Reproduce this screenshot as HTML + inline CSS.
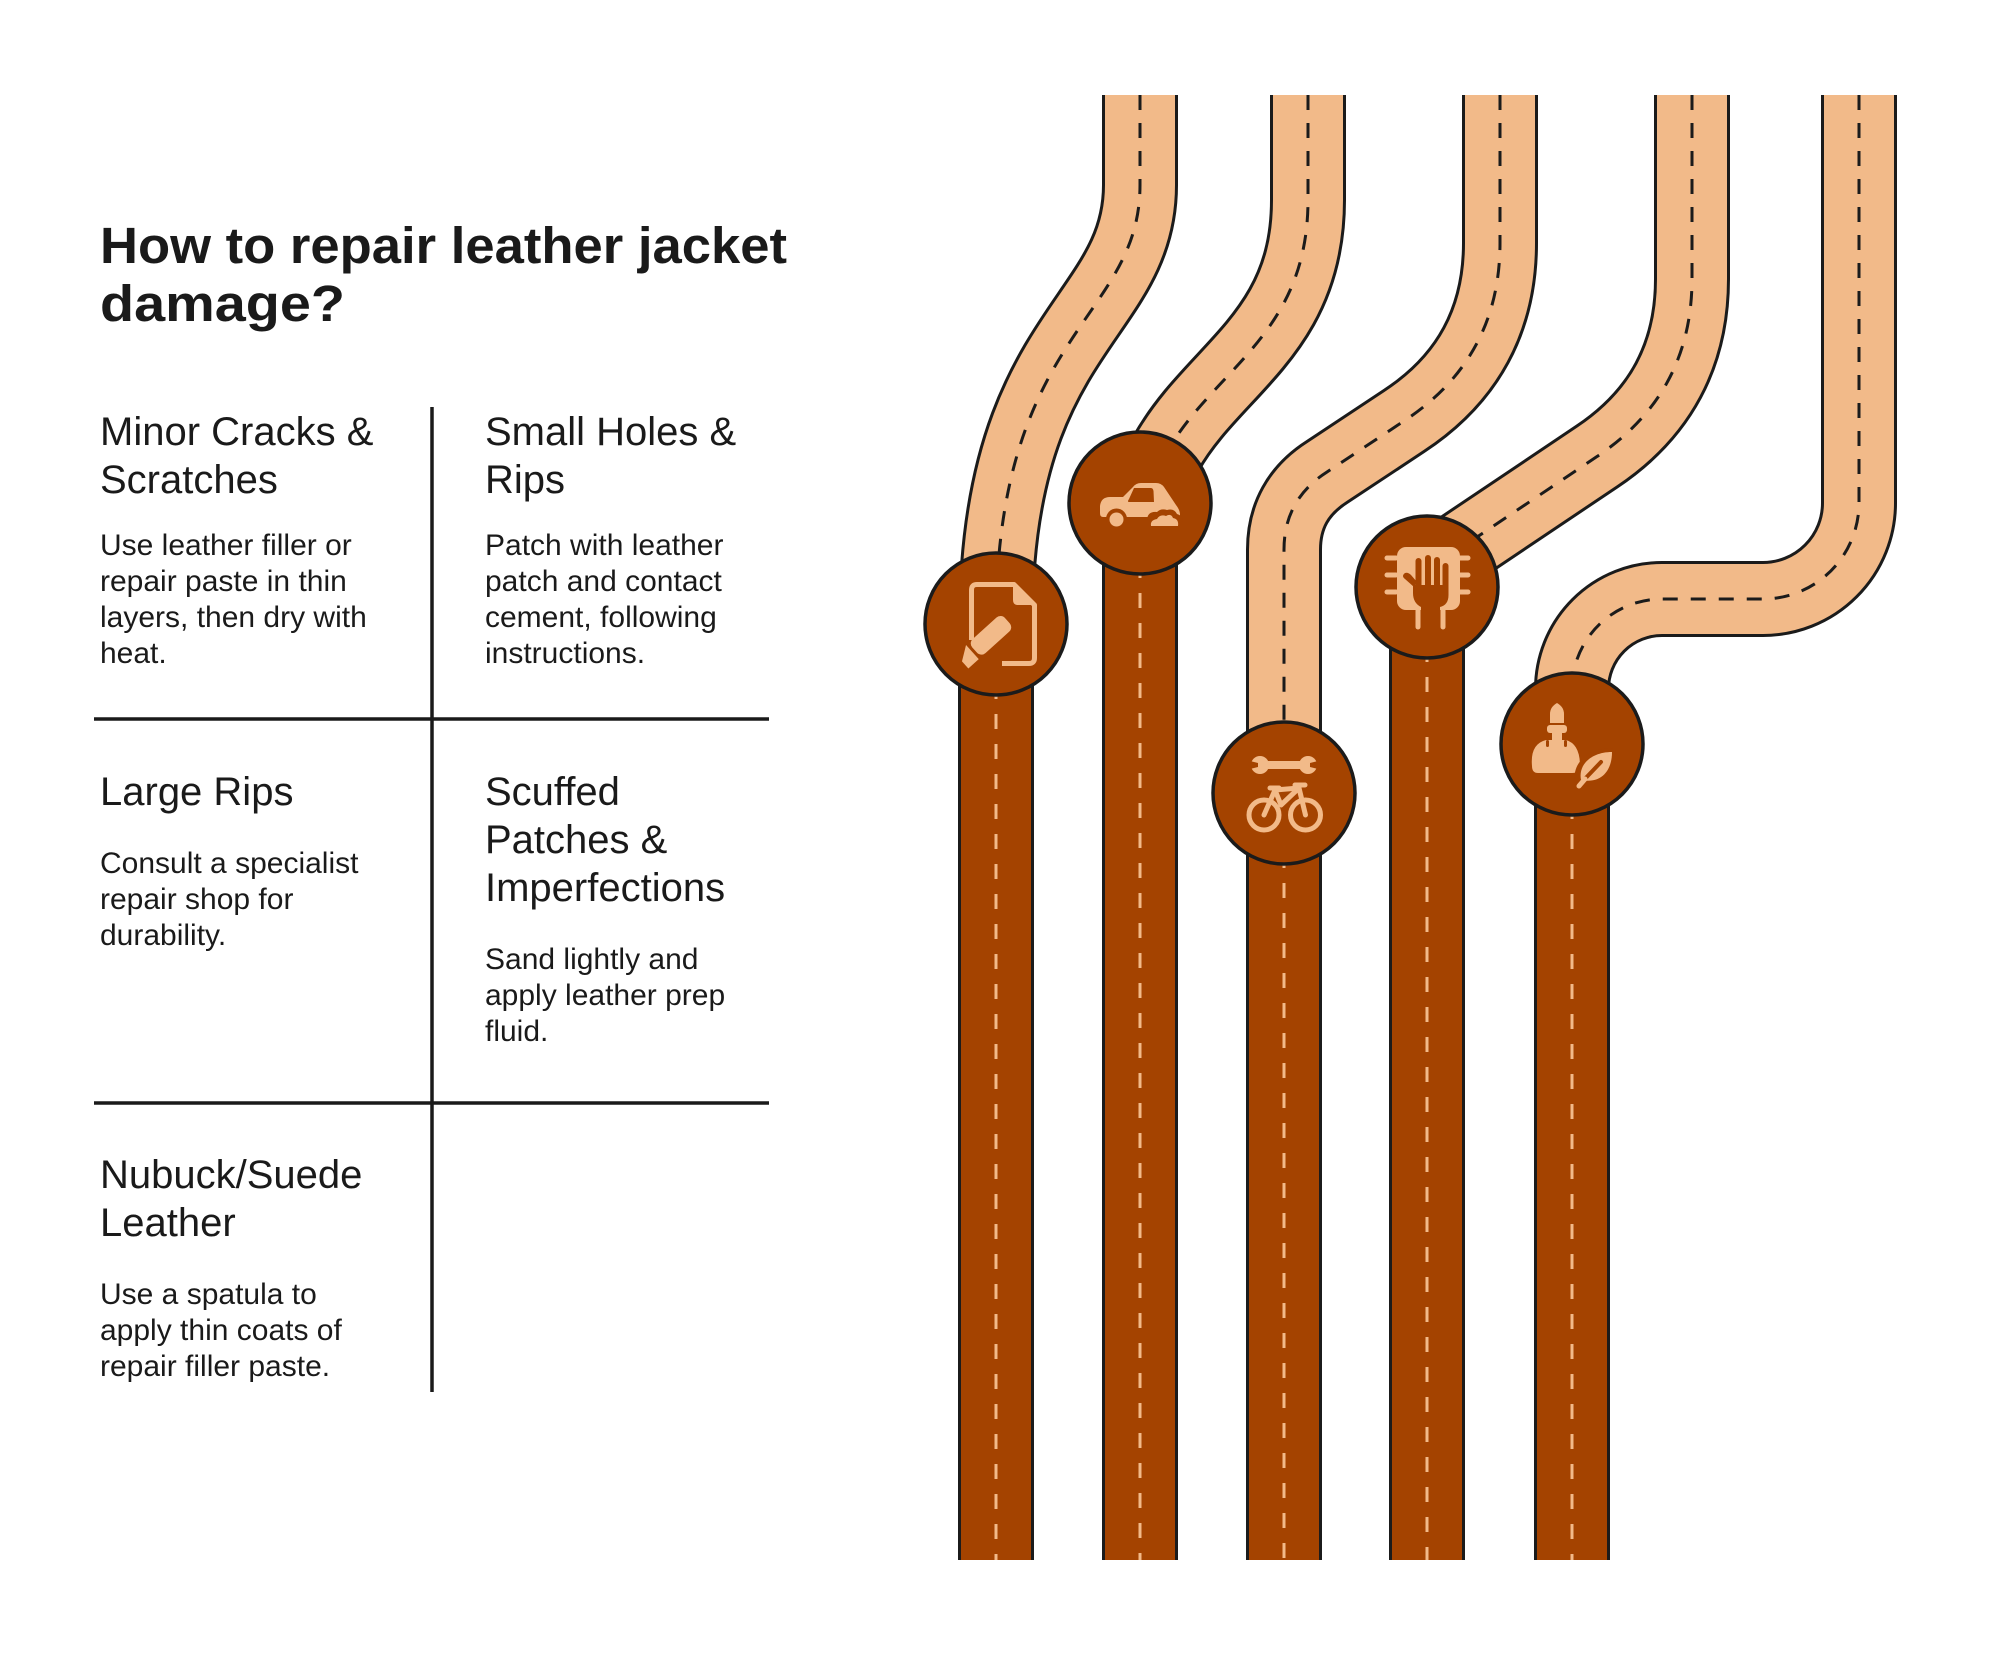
<!DOCTYPE html>
<html>
<head>
<meta charset="utf-8">
<style>
  html, body { margin: 0; padding: 0; background: #ffffff; }
  svg { display: block; }
  .t { font-family: "Liberation Sans", Arial, sans-serif; fill: #1a1a1a; }
</style>
</head>
<body>
<svg width="2016" height="1656" viewBox="0 0 2016 1656" xmlns="http://www.w3.org/2000/svg">
  <rect x="0" y="0" width="2016" height="1656" fill="#ffffff"/>

  <!-- Title -->
  <text class="t" x="100" y="263" font-size="51" font-weight="bold" textLength="687" lengthAdjust="spacingAndGlyphs">How to repair leather jacket</text>
  <text class="t" x="100" y="321" font-size="51" font-weight="bold" textLength="245" lengthAdjust="spacingAndGlyphs">damage?</text>

  <!-- Grid lines -->
  <g stroke="#1a1a1a" stroke-width="3.5" fill="none">
    <line x1="432" y1="407" x2="432" y2="1392"/>
    <line x1="94" y1="719" x2="769" y2="719"/>
    <line x1="94" y1="1103" x2="769" y2="1103"/>
  </g>

  <!-- Cell 1 -->
  <text class="t" x="100" y="445" font-size="40">Minor Cracks &amp;</text>
  <text class="t" x="100" y="493" font-size="40">Scratches</text>
  <text class="t" x="100" y="555" font-size="30">Use leather filler or</text>
  <text class="t" x="100" y="591" font-size="30">repair paste in thin</text>
  <text class="t" x="100" y="627" font-size="30">layers, then dry with</text>
  <text class="t" x="100" y="663" font-size="30">heat.</text>

  <!-- Cell 2 -->
  <text class="t" x="485" y="445" font-size="40">Small Holes &amp;</text>
  <text class="t" x="485" y="493" font-size="40">Rips</text>
  <text class="t" x="485" y="555" font-size="30">Patch with leather</text>
  <text class="t" x="485" y="591" font-size="30">patch and contact</text>
  <text class="t" x="485" y="627" font-size="30">cement, following</text>
  <text class="t" x="485" y="663" font-size="30">instructions.</text>

  <!-- Cell 3 -->
  <text class="t" x="100" y="805" font-size="40">Large Rips</text>
  <text class="t" x="100" y="873" font-size="30">Consult a specialist</text>
  <text class="t" x="100" y="909" font-size="30">repair shop for</text>
  <text class="t" x="100" y="945" font-size="30">durability.</text>

  <!-- Cell 4 -->
  <text class="t" x="485" y="805" font-size="40">Scuffed</text>
  <text class="t" x="485" y="853" font-size="40">Patches &amp;</text>
  <text class="t" x="485" y="901" font-size="40">Imperfections</text>
  <text class="t" x="485" y="969" font-size="30">Sand lightly and</text>
  <text class="t" x="485" y="1005" font-size="30">apply leather prep</text>
  <text class="t" x="485" y="1041" font-size="30">fluid.</text>

  <!-- Cell 5 -->
  <text class="t" x="100" y="1188" font-size="40">Nubuck/Suede</text>
  <text class="t" x="100" y="1236" font-size="40">Leather</text>
  <text class="t" x="100" y="1304" font-size="30">Use a spatula to</text>
  <text class="t" x="100" y="1340" font-size="30">apply thin coats of</text>
  <text class="t" x="100" y="1376" font-size="30">repair filler paste.</text>

  <defs>
    <path id="r1" d="M1140,95 V185 C1140,320 996,330 996,624"/>
    <path id="r2" d="M1308,95 V200 C1308,380 1140,380 1140,560"/>
    <path id="r3" d="M1500,95 V243 Q1500,358 1404,421 L1327,472 Q1284,499.5 1284,549.5 V793"/>
    <path id="r4" d="M1692,95 V279 Q1692,393 1597,456.5 L1428,570"/>
    <path id="r5" d="M1859,95 V503 A96,96 0 0 1 1763,599 H1662 A90,90 0 0 0 1572,689 V744"/>
    <path id="d1" d="M996,624 V1560"/>
    <path id="d2" d="M1140,503 V1560"/>
    <path id="d3" d="M1284,793 V1560"/>
    <path id="d4" d="M1427,587 V1560"/>
    <path id="d5" d="M1572,744 V1560"/>
  </defs>

  <g fill="none" stroke-linecap="butt" stroke-linejoin="round">
    <g stroke="#1b1b1b" stroke-width="76">
      <use href="#r1"/><use href="#r2"/><use href="#r3"/><use href="#r4"/><use href="#r5"/>
    </g>
    <g stroke="#F2BA89" stroke-width="70">
      <use href="#r1"/><use href="#r2"/><use href="#r3"/><use href="#r4"/><use href="#r5"/>
    </g>
    <g stroke="#1b1b1b" stroke-width="3" stroke-dasharray="15 13">
      <use href="#r1"/><use href="#r2"/><use href="#r3"/><use href="#r4"/><use href="#r5"/>
    </g>

    <g stroke="#1b1b1b" stroke-width="76">
      <use href="#d1"/><use href="#d2"/><use href="#d3"/><use href="#d4"/><use href="#d5"/>
    </g>
    <g stroke="#A44300" stroke-width="70">
      <use href="#d1"/><use href="#d2"/><use href="#d3"/><use href="#d4"/><use href="#d5"/>
    </g>
    <g stroke="#F2BA89" stroke-width="3" stroke-dasharray="15 15">
      <use href="#d1"/><use href="#d2"/><use href="#d3"/><use href="#d4"/><use href="#d5"/>
    </g>
  </g>

  <!-- Circles -->
  <g fill="#A44300" stroke="#1b1b1b" stroke-width="3.5">
    <circle cx="996" cy="624" r="71"/>
    <circle cx="1140" cy="503" r="71"/>
    <circle cx="1284" cy="793" r="71"/>
    <circle cx="1427" cy="587" r="71"/>
    <circle cx="1572" cy="744" r="71"/>
  </g>

  <!-- Icon 1: document + marker -->
  <g transform="translate(996,624)">
    <path d="M-24.5,16 V-34 Q-24.5,-39.5 -19,-39.5 H18 L38.5,-19 V34 Q38.5,39.5 33,39.5 H6" fill="none" stroke="#F2BA89" stroke-width="5" stroke-linejoin="round"/>
    <path d="M17,-39.5 V-24 Q17,-19 22,-19 H38.5 Z" fill="#F2BA89"/>
    <g transform="translate(-8,14) rotate(-42)">
      <rect x="-18" y="-9.5" width="44" height="19" rx="6" fill="#F2BA89"/>
      <path d="M-21,-9.5 L-35,0 L-35,9.5 L-21,9.5 Z" fill="#F2BA89"/>
    </g>
  </g>

  <!-- Icon 2: car -->
  <g transform="translate(1140,503)" fill="#F2BA89">
    <path d="M-40,10 L-40,3 Q-39,-6 -30,-6 L-17,-6 L-7,-16 Q-4,-20 1,-20 L16,-20 Q21,-20 24,-16 L36,2 Q40,7 40,12 Q40,14 37,14 L-37,14 Q-40,14 -40,10 Z"/>
    <path d="M-6,-15 L11,-15 Q13,-15 13.5,-12 L14,-1 L-11,-1 Q-13,-1 -11,-4 Z" fill="#A44300"/>
    <circle cx="-23.5" cy="16" r="10.5" fill="#A44300"/>
    <circle cx="-23.5" cy="16.5" r="7"/>
    <path d="M7,26 L7,18 Q7,8 17,9 Q21,5 27,7 Q34,5 37,11 Q44,13 42,20 L42,26 Z" fill="#A44300"/>
    <path d="M11,23 Q10,17 17,16 Q20,11 26,13 Q31,10 33,15 Q39,16 38,23 Z"/>
  </g>

  <!-- Icon 3: wrench + bicycle -->
  <g transform="translate(1284,793)">
    <g fill="#F2BA89">
      <rect x="-24" y="-32" width="48" height="8" rx="3"/>
      <circle cx="-24" cy="-28" r="9"/>
      <circle cx="24" cy="-28" r="9"/>
    </g>
    <g fill="#A44300">
      <path d="M-34,-32 L-26,-30 L-26,-26 L-34,-24 Z"/>
      <path d="M34,-32 L26,-30 L26,-26 L34,-24 Z"/>
    </g>
    <g fill="none" stroke="#F2BA89" stroke-width="5" stroke-linecap="round" stroke-linejoin="round">
      <circle cx="-20" cy="22" r="15"/>
      <circle cx="21.5" cy="22" r="15"/>
      <path d="M-20,22 L-9,-3 L15,-5 L21.5,22"/>
      <path d="M-9,-3 L-3,12 L15,-5"/>
      <path d="M-14,-5 L-5,-5"/>
      <path d="M11,-8 L21,-8"/>
    </g>
  </g>

  <!-- Icon 4: hand on chip -->
  <g transform="translate(1427,587)">
    <rect x="-30" y="-40" width="63" height="63" rx="9" fill="#F2BA89"/>
    <g stroke="#F2BA89" stroke-width="5" stroke-linecap="round">
      <line x1="-40" y1="-29" x2="-31" y2="-29"/>
      <line x1="-40" y1="-12" x2="-31" y2="-12"/>
      <line x1="-40" y1="5" x2="-31" y2="5"/>
      <line x1="33" y1="-29" x2="41" y2="-29"/>
      <line x1="33" y1="-12" x2="41" y2="-12"/>
      <line x1="33" y1="5" x2="41" y2="5"/>
      <line x1="-9" y1="22" x2="-9" y2="40"/>
      <line x1="16" y1="22" x2="16" y2="40"/>
    </g>
    <g fill="#A44300">
      <rect x="-11.5" y="-29" width="6" height="32" rx="3"/>
      <rect x="-2" y="-32" width="6" height="34" rx="3"/>
      <rect x="7" y="-30" width="6" height="32" rx="3"/>
      <rect x="15.5" y="-24" width="6" height="28" rx="3"/>
      <path d="M-13,0 L-22,-8 Q-26,-11 -22,-14 Q-19,-15 -16,-12 L-10,-5 Z"/>
      <path d="M-14,-2 H21.5 V8 Q21.5,18 13,20 V24 H-6 V20 Q-14,16 -14,6 Z"/>
    </g>
  </g>

  <!-- Icon 5: sack with brush + leaf -->
  <g transform="translate(1572,744)">
    <g fill="#F2BA89">
      <path d="M-22,-21 L-22,-30 Q-22,-37 -15,-41 Q-8,-37 -8,-30 L-8,-21 Z"/>
      <rect x="-25" y="-19" width="20" height="8" rx="3"/>
      <rect x="-20" y="-12" width="10" height="9"/>
      <path d="M-40,22 Q-42,0 -26,-4 L-6,-4 Q8,0 8,22 Q8,29 0,29 L-34,29 Q-40,29 -40,22 Z"/>
    </g>
    <g fill="#A44300">
      <rect x="-26" y="-4" width="3" height="7" rx="1.5"/>
      <rect x="-8" y="-4" width="3" height="7" rx="1.5"/>
      <path d="M3,40 C-1,18 17,3 44,4 C44,30 30,46 3,40 Z"/>
    </g>
    <path d="M9,36 C6,20 20,8 40,8 C40,28 28,40 9,36 Z" fill="#F2BA89"/>
    <path d="M9,39 L29,18" stroke="#A44300" stroke-width="4" stroke-linecap="round"/>
    <path d="M7,42 L13,35" stroke="#F2BA89" stroke-width="5" stroke-linecap="round"/>
  </g>
</svg>
</body>
</html>
